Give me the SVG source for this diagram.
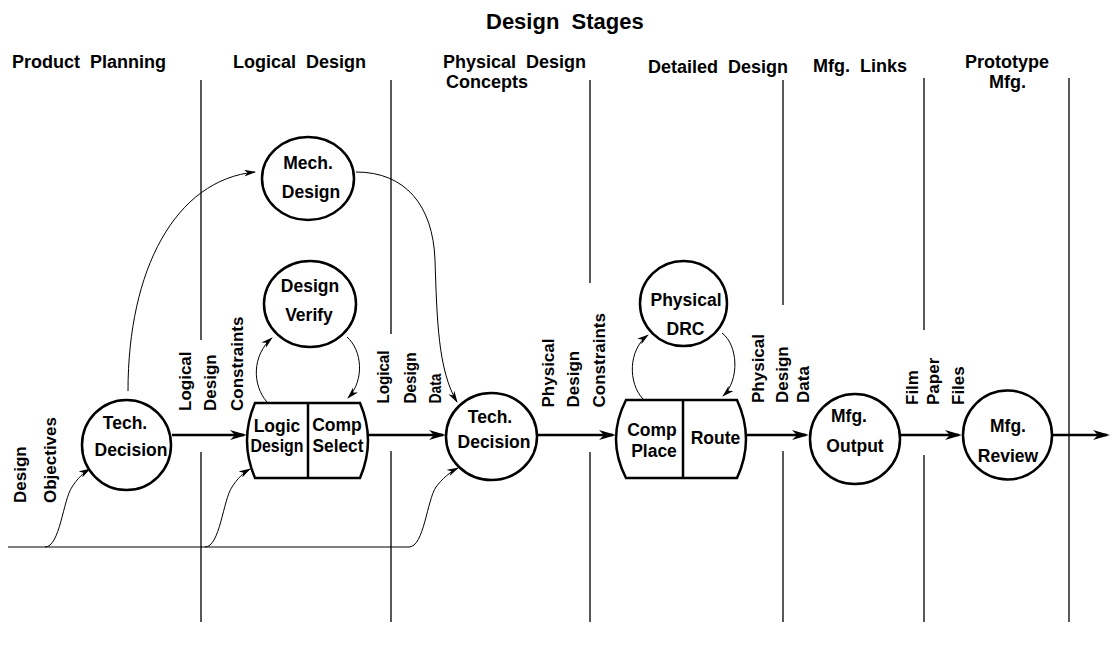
<svg xmlns="http://www.w3.org/2000/svg" width="1115" height="652" viewBox="0 0 1115 652">
  <style>
    text { font-family: "Liberation Sans", Arial, Helvetica, sans-serif; font-weight: bold; fill: #000; white-space: pre; }
    .title { font-size: 22px; }
    .hdr { font-size: 18px; }
    .lbl { font-size: 17px; }
    .nt { font-size: 17.5px; text-anchor: middle; }
    .node { fill: #fff; stroke: #000; stroke-width: 2.5; }
    .div { stroke: #000; stroke-width: 2.5; }
    .stage { stroke: #000; stroke-width: 1.3; fill: none; }
    .flow { stroke: #000; stroke-width: 2.5; fill: none; marker-end: url(#big); }
    .thin { stroke: #000; stroke-width: 1; fill: none; }
    .thina { stroke: #000; stroke-width: 1; fill: none; marker-end: url(#small); }
  </style>
  <defs>
    <marker id="big" viewBox="0 0 17 10" refX="14" refY="5" markerWidth="17" markerHeight="10" markerUnits="userSpaceOnUse" orient="auto">
      <path d="M0,0 L17,5 L0,10 L5,5 Z" fill="#000"/>
    </marker>
    <marker id="small" viewBox="0 0 12 7" refX="11" refY="3.5" markerWidth="12" markerHeight="7" markerUnits="userSpaceOnUse" orient="auto">
      <path d="M0,0 L12,3.5 L0,7 L3.5,3.5 Z" fill="#000"/>
    </marker>
  </defs>
  <rect width="1115" height="652" fill="#fff"/>

  <!-- title and stage headings -->
  <g id="headings">
    <text class="title" x="486" y="29">Design  Stages</text>
    <text class="hdr" x="12" y="68">Product  Planning</text>
    <text class="hdr" x="233" y="68">Logical  Design</text>
    <text class="hdr" x="443" y="68">Physical  Design</text>
    <text class="hdr" x="446" y="88">Concepts</text>
    <text class="hdr" x="648" y="73">Detailed  Design</text>
    <text class="hdr" x="813" y="72">Mfg.  Links</text>
    <text class="hdr" x="965" y="68">Prototype</text>
    <text class="hdr" x="989" y="88">Mfg.</text>
  </g>

  <!-- stage boundary lines -->
  <g id="stage-lines">
    <path class="stage" d="M201,80 V340 M201,452 V622"/>
    <path class="stage" d="M391,80 V334 M391,451 V622"/>
    <path class="stage" d="M590,80 V283 M590,452 V622"/>
    <path class="stage" d="M783,80 V305 M783,451 V622"/>
    <path class="stage" d="M924,78 V330 M924,455 V622"/>
    <path class="stage" d="M1069,78 V622"/>
  </g>

  <!-- connectors -->
  <g id="connectors">
    <path class="flow" d="M172,435 H244"/>
    <path class="flow" d="M368,435 H443"/>
    <path class="flow" d="M537,435 H613"/>
    <path class="flow" d="M746,435 H806"/>
    <path class="flow" d="M901,435 H959"/>
    <path class="flow" d="M1053,435 H1107"/>

    <path class="thin" d="M8,547 H409"/>
    <path class="thina" d="M45,547 C60,547 63,500 72,487 C77,479 83,473 90,469"/>
    <path class="thina" d="M205,547 C220,547 223,500 232,487 C237,479 243,473 250,469"/>
    <path class="thina" d="M409,547 C424,547 427,500 436,487 C442,479 450,472 458,468"/>

    <path class="thina" d="M128,391 C128,270 175,180 255,172"/>
    <path class="thina" d="M356,172 C405,172 433,205 435,260 C437,320 438,370 457,402"/>

    <path class="thina" d="M267,402 C252,385 252,355 272,338"/>
    <path class="thina" d="M347,337 C362,350 365,380 348,398"/>
    <path class="thina" d="M643,399 C628,383 628,350 648,335"/>
    <path class="thina" d="M722,333 C738,345 740,380 723,396"/>
  </g>

  <!-- flow labels -->
  <g id="flow-labels">
    <text class="lbl" transform="translate(26,503) rotate(-90)">Design</text>
    <text class="lbl" transform="translate(55.5,503) rotate(-90)">Objectives</text>

    <text class="lbl" transform="translate(190.5,411) rotate(-90)">Logical</text>
    <text class="lbl" transform="translate(215.5,411) rotate(-90)">Design</text>
    <text class="lbl" transform="translate(242.5,411) rotate(-90)">Constraints</text>

    <text class="lbl" transform="translate(389,403.5) rotate(-90)" textLength="53" lengthAdjust="spacingAndGlyphs">Logical</text>
    <text class="lbl" transform="translate(415.5,403.5) rotate(-90)" textLength="51" lengthAdjust="spacingAndGlyphs">Design</text>
    <text class="lbl" transform="translate(440.5,403.5) rotate(-90)" textLength="30" lengthAdjust="spacingAndGlyphs">Data</text>

    <text class="lbl" transform="translate(554,407.5) rotate(-90)">Physical</text>
    <text class="lbl" transform="translate(579,407.5) rotate(-90)">Design</text>
    <text class="lbl" transform="translate(604.5,407.5) rotate(-90)">Constraints</text>

    <text class="lbl" transform="translate(764,403) rotate(-90)">Physical</text>
    <text class="lbl" transform="translate(787.5,403) rotate(-90)">Design</text>
    <text class="lbl" transform="translate(809,403) rotate(-90)">Data</text>

    <text class="lbl" transform="translate(917.5,405) rotate(-90)">Film</text>
    <text class="lbl" transform="translate(939,405) rotate(-90)">Paper</text>
    <text class="lbl" transform="translate(964,405) rotate(-90)">Files</text>
  </g>

  <!-- process nodes -->
  <g id="tech-decision-1">
    <ellipse class="node" cx="126.5" cy="445" rx="44.5" ry="45"/>
    <text class="nt" x="125" y="429">Tech.</text>
    <text class="nt" x="131" y="456">Decision</text>
  </g>

  <g id="mech-design">
    <ellipse class="node" cx="308" cy="178.5" rx="46" ry="41.5"/>
    <text class="nt" x="308" y="169">Mech.</text>
    <text class="nt" x="311" y="198">Design</text>
  </g>

  <g id="design-verify">
    <ellipse class="node" cx="310" cy="304" rx="46" ry="43"/>
    <text class="nt" x="310" y="292">Design</text>
    <text class="nt" x="309" y="320.5">Verify</text>
  </g>

  <g id="logic-comp-select">
    <path class="node" d="M255,403 L360,403 Q376,440.5 360,478 L255,478 Q239,440.5 255,403 Z"/>
    <line class="div" x1="308" y1="403" x2="308" y2="478"/>
    <text class="nt" x="277" y="431.5">Logic</text>
    <text class="nt" x="277" y="451.5" textLength="53" lengthAdjust="spacingAndGlyphs">Design</text>
    <text class="nt" x="337" y="431">Comp</text>
    <text class="nt" x="338" y="451.5" textLength="51" lengthAdjust="spacingAndGlyphs">Select</text>
  </g>

  <g id="tech-decision-2">
    <ellipse class="node" cx="491.5" cy="436.5" rx="45.5" ry="43.5"/>
    <text class="nt" x="490" y="423">Tech.</text>
    <text class="nt" x="494" y="448">Decision</text>
  </g>

  <g id="physical-drc">
    <ellipse class="node" cx="683.5" cy="303.5" rx="43.5" ry="42.5"/>
    <text class="nt" x="686" y="306">Physical</text>
    <text class="nt" x="685.5" y="335">DRC</text>
  </g>

  <g id="place-route">
    <path class="node" d="M626,400 L737,400 Q755,439 737,478 L626,478 Q606,439 626,400 Z"/>
    <line class="div" x1="683" y1="400" x2="683" y2="478"/>
    <text class="nt" x="652" y="436">Comp</text>
    <text class="nt" x="654" y="456.5">Place</text>
    <text class="nt" x="715.5" y="444">Route</text>
  </g>

  <g id="mfg-output">
    <ellipse class="node" cx="855" cy="439" rx="45" ry="45"/>
    <text class="nt" x="849" y="422">Mfg.</text>
    <text class="nt" x="855" y="452">Output</text>
  </g>

  <g id="mfg-review">
    <ellipse class="node" cx="1007.5" cy="435" rx="44.5" ry="44.5"/>
    <text class="nt" x="1008" y="431.5">Mfg.</text>
    <text class="nt" x="1008" y="461.5">Review</text>
  </g>
</svg>
